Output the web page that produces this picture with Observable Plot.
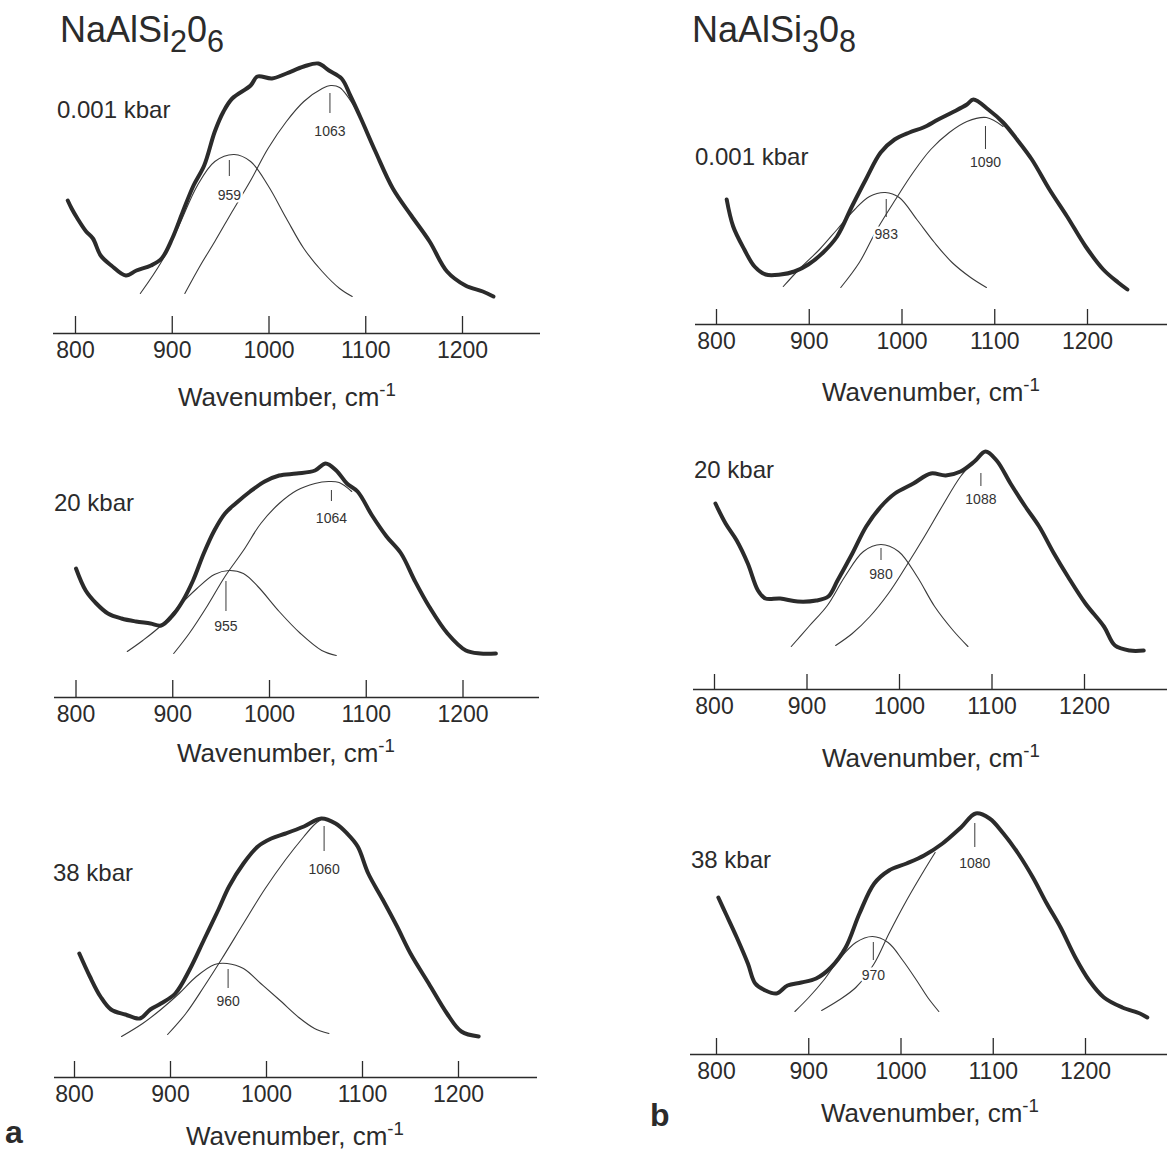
<!DOCTYPE html>
<html>
<head>
<meta charset="utf-8">
<script src="https://cdn.jsdelivr.net/npm/d3@7"></script>
<script src="https://cdn.jsdelivr.net/npm/@observablehq/plot@0.6"></script>
<style>
  body { margin: 0; background: #fff; }
  #fig { position: relative; width: 1167px; height: 1152px; overflow: hidden;
         font-family: "Liberation Sans", Arial, Helvetica, sans-serif; color: #2b2b2b; }
  .abs { position: absolute; white-space: nowrap; line-height: 1; }
  .panel { position: absolute; }
  .panel svg { overflow: visible; }
  .title { font-size: 36px; }
  .title sub { font-size: 0.85em; vertical-align: -0.32em; line-height: 0; }
  .press { font-size: 24px; }
  .wn { font-size: 26px; transform: translateX(-50%); }
  .wn sup { font-size: 0.72em; position: relative; top: -0.55em; vertical-align: baseline; line-height: 0; }
  .tag { font-size: 32px; font-weight: bold; }
</style>
</head>
<body>
<div id="fig"></div>
<script>
// ---------------- data ----------------
const ticks = [800, 900, 1000, 1100, 1200];
const titleLeft = ["NaAlSi", "2", "0", "6"];
const titleRight = ["NaAlSi", "3", "0", "8"];
const pressures = ["0.001 kbar", "20 kbar", "38 kbar"];
const axisTitle = "Wavenumber, cm";
const axisTitleExp = "-1";

// NaAlSi2O6, 0.001 kbar  ([wavenumber, intensity])
const a1Spectrum = [[792,133],[796,125],[802,115],[811,102],[818,95],[826,78],[837,68],[852,58],[863,63],[878,68],[889,75],[900,95],[911,122],[922,148],[933,168],[944,202],[953,222],[962,235],[981,248],[988,257],[1003,255],[1018,260],[1036,267],[1051,270],[1062,263],[1075,255],[1084,238],[1095,215],[1110,182],[1128,145],[1147,118],[1166,92],[1184,62],[1203,48],[1221,42],[1232,37]];
const a1Band1 = [[867,40],[889,72],[907,108],[926,148],[944,172],[964,179],[981,172],[999,148],[1018,115],[1036,85],[1055,62],[1073,45],[1086,37]];
const a1Band2 = [[913,40],[929,68],[944,92],[962,122],[981,153],[999,185],[1018,212],[1036,232],[1055,245],[1064,248],[1073,246],[1090,224]];
const a1Peaks = [{nu:959, low:157, high:173, label:138}, {nu:1063, low:220, high:240, label:202}];

// NaAlSi2O6, 20 kbar
const a2Spectrum = [[800,129],[810,107],[821,94],[833,84],[847,79],[862,76],[877,74],[888,72],[899,81],[910,96],[921,117],[932,144],[943,167],[954,184],[965,194],[980,206],[995,216],[1010,222],[1028,224],[1047,227],[1058,234],[1069,227],[1080,214],[1091,206],[1106,182],[1121,161],[1136,144],[1150,117],[1165,91],[1184,64],[1203,47],[1218,44],[1234,44]];
const a2Band1 = [[853,46],[869,57],[888,72],[906,91],[925,109],[943,123],[958,127],[973,124],[988,111],[1010,86],[1032,64],[1054,47],[1069,42]];
const a2Band2 = [[901,44],[917,64],[936,92],[954,121],[973,147],[991,174],[1010,194],[1028,207],[1047,214],[1061,216],[1072,215],[1085,206]];
const a2Peaks = [{nu:955, low:86, high:116, label:71}, {nu:1064, low:196, high:207, label:179}];

// NaAlSi2O6, 38 kbar
const a3Spectrum = [[805,124],[816,101],[827,81],[838,68],[853,63],[868,59],[879,68],[890,74],[905,84],[920,108],[935,138],[950,168],[961,191],[976,214],[991,231],[1005,239],[1020,244],[1039,251],[1057,259],[1072,254],[1084,244],[1095,231],[1106,204],[1121,178],[1136,151],[1150,124],[1169,94],[1188,64],[1203,46],[1221,41]];
const a3Band1 = [[849,41],[871,54],[890,68],[909,84],[927,101],[946,113],[959,114],[976,109],[994,94],[1013,78],[1035,59],[1050,49],[1065,44]];
const a3Band2 = [[897,43],[916,64],[935,91],[953,118],[976,154],[998,188],[1020,218],[1039,241],[1050,253],[1057,258]];
const a3Peaks = [{nu:960, low:89, high:108, label:76}, {nu:1060, low:226, high:251, label:208}];

// NaAlSi3O8, 0.001 kbar
const b1Spectrum = [[811,125],[818,98],[830,75],[841,58],[853,50],[869,50],[884,53],[899,60],[915,72],[930,88],[946,118],[961,145],[977,172],[992,185],[1008,192],[1023,197],[1039,205],[1054,212],[1070,220],[1077,225],[1093,215],[1109,202],[1124,185],[1140,165],[1159,135],[1178,108],[1198,78],[1217,55],[1233,42],[1243,35]];
const b1Band1 = [[872,38],[891,57],[911,75],[930,95],[949,115],[965,128],[982,132],[997,127],[1016,105],[1035,82],[1054,62],[1074,47],[1091,37]];
const b1Band2 = [[934,37],[954,62],[973,95],[993,125],[1012,152],[1031,175],[1051,192],[1070,203],[1091,207],[1109,198]];
const b1Peaks = [{nu:983, low:107, high:125, label:90}, {nu:1090, low:175, high:198, label:162}];

// NaAlSi3O8, 20 kbar
const b2Spectrum = [[801,186],[812,166],[824,149],[836,126],[847,99],[855,91],[871,91],[890,88],[910,89],[923,93],[933,109],[949,136],[964,163],[980,183],[995,196],[1015,206],[1034,216],[1050,214],[1066,218],[1081,228],[1093,238],[1105,229],[1120,206],[1136,183],[1151,163],[1167,136],[1182,113],[1201,86],[1221,63],[1233,44],[1249,39],[1264,39]];
const b2Band1 = [[883,43],[902,63],[922,84],[941,113],[961,138],[980,145],[999,138],[1019,113],[1038,83],[1058,59],[1074,43]];
const b2Band2 = [[931,44],[949,56],[968,73],[988,96],[1007,123],[1027,153],[1046,183],[1066,213],[1081,229]];
const b2Peaks = [{nu:980, low:129, high:141, label:115}, {nu:1088, low:203, high:216, label:190}];

// NaAlSi3O8, 38 kbar
const b3Spectrum = [[802,157],[810,141],[822,117],[834,91],[842,71],[853,64],[865,61],[877,69],[892,72],[908,76],[924,87],[940,107],[955,141],[971,171],[987,184],[1006,191],[1025,199],[1045,211],[1065,227],[1081,241],[1096,236],[1111,221],[1127,201],[1143,177],[1158,151],[1173,127],[1189,97],[1204,74],[1220,57],[1240,47],[1259,41],[1267,37]];
const b3Band1 = [[885,43],[900,57],[916,74],[932,94],[951,112],[969,118],[986,112],[1002,94],[1017,74],[1029,57],[1041,43]];
const b3Band2 = [[914,44],[932,54],[951,67],[971,91],[987,121],[1006,154],[1025,184],[1037,202]];
const b3Peaks = [{nu:970, low:94, high:112, label:79}, {nu:1080, low:207, high:231, label:191}];

// ---------------- layout ----------------
const INK = "#2b2b2b";
const FONT = '"Liberation Sans", Arial, Helvetica, sans-serif';
const PLOT_H = 300;      // data units == pixels above the baseline
const BOTTOM = 45;

const panels = [
  {left: 0,   width: 560, frameL: 53, frameR: 20, xr: [75, 462],   axisY: 333,  tick: 17, spec: a1Spectrum, b1: a1Band1, b2: a1Band2, peaks: a1Peaks, press: [0, 57, 110],  wn: [287, 397]},
  {left: 0,   width: 560, frameL: 54, frameR: 21, xr: [75.5, 462.5], axisY: 697, tick: 17, spec: a2Spectrum, b1: a2Band1, b2: a2Band2, peaks: a2Peaks, press: [1, 54, 503],  wn: [286, 753]},
  {left: 0,   width: 560, frameL: 54, frameR: 23, xr: [74, 458],   axisY: 1077, tick: 16, spec: a3Spectrum, b1: a3Band1, b2: a3Band2, peaks: a3Peaks, press: [2, 53, 873],  wn: [295, 1136]},
  {left: 600, width: 567, frameL: 95, frameR: 0,  xr: [116, 487],  axisY: 324,  tick: 15, spec: b1Spectrum, b1: b1Band1, b2: b1Band2, peaks: b1Peaks, press: [0, 695, 157], wn: [931, 392]},
  {left: 600, width: 567, frameL: 93, frameR: 0,  xr: [114, 484],  axisY: 689,  tick: 15, spec: b2Spectrum, b1: b2Band1, b2: b2Band2, peaks: b2Peaks, press: [1, 694, 470], wn: [931, 758]},
  {left: 600, width: 567, frameL: 90, frameR: 0,  xr: [116, 485],  axisY: 1054, tick: 16, spec: b3Spectrum, b1: b3Band1, b2: b3Band2, peaks: b3Peaks, press: [2, 691, 860], wn: [930, 1113]}
];

const fig = document.getElementById("fig");

function addHTML(cls, left, top, html) {
  const d = document.createElement("div");
  d.className = "abs " + cls;
  d.style.left = left + "px";
  d.style.top = top + "px";
  d.innerHTML = html;
  fig.appendChild(d);
  return d;
}

for (const p of panels) {
  const svg = Plot.plot({
    width: p.width,
    height: PLOT_H + BOTTOM,
    marginTop: 0,
    marginBottom: BOTTOM,
    marginLeft: p.frameL,
    marginRight: p.frameR,
    x: {domain: [800, 1200], range: p.xr, axis: null},
    y: {domain: [0, PLOT_H], axis: null},
    style: {fontFamily: FONT, color: INK, background: "transparent", overflow: "visible"},
    marks: [
      Plot.ruleY([0], {stroke: INK, strokeWidth: 1.6}),
      Plot.ruleX(ticks, {x: d => d, y1: 0, y2: p.tick, stroke: INK, strokeWidth: 1.3}),
      Plot.axisX(ticks, {anchor: "bottom", tickSize: 0, tickPadding: 8, fontSize: 23, label: null, tickFormat: d => String(d), fill: INK}),
      Plot.line(p.b1, {curve: "catmull-rom", stroke: "#3a3a3a", strokeWidth: 1.1}),
      Plot.line(p.b2, {curve: "catmull-rom", stroke: "#3a3a3a", strokeWidth: 1.1}),
      Plot.line(p.spec, {curve: "catmull-rom", stroke: INK, strokeWidth: 4, strokeLinejoin: "round", strokeLinecap: "round"}),
      Plot.ruleX(p.peaks, {x: "nu", y1: "low", y2: "high", stroke: "#3a3a3a", strokeWidth: 1}),
      Plot.text(p.peaks, {x: "nu", y: "label", text: d => String(d.nu), fontSize: 14, fill: "#333", stroke: "white", strokeWidth: 5, paintOrder: "stroke"})
    ]
  });
  const holder = document.createElement("div");
  holder.className = "panel";
  holder.style.left = p.left + "px";
  holder.style.top = (p.axisY - PLOT_H) + "px";
  holder.appendChild(svg);
  fig.appendChild(holder);

  // pressure label
  const [pi, px, py] = p.press;
  addHTML("press", px, py - 12, pressures[pi]);
  // axis title
  addHTML("wn", p.wn[0], p.wn[1] - 13, `${axisTitle}<sup>${axisTitleExp}</sup>`);
}

// column titles and panel tags
function chem(parts) { return `${parts[0]}<sub>${parts[1]}</sub>${parts[2]}<sub>${parts[3]}</sub>`; }
addHTML("title", 60, 12, chem(titleLeft));
addHTML("title", 692, 12, chem(titleRight));
addHTML("tag", 5, 1116, "a");
addHTML("tag", 650, 1099, "b");
</script>
</body>
</html>
